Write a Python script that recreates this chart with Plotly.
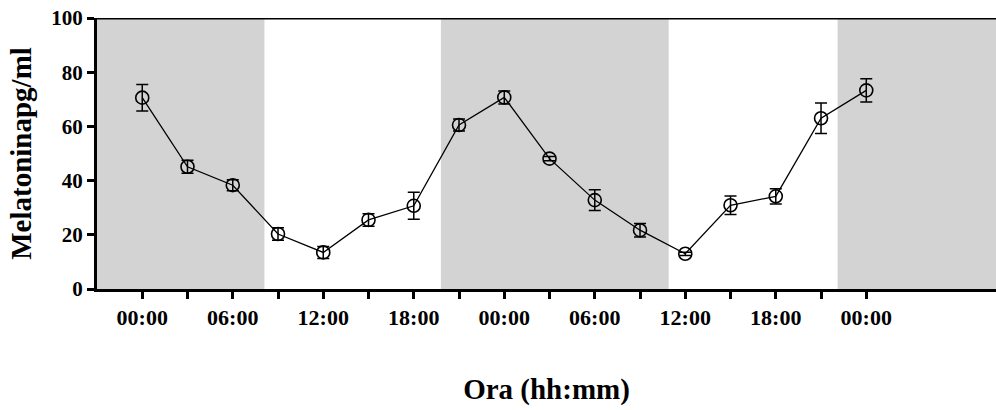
import plotly.graph_objects as go

hours = [0, 3, 6, 9, 12, 15, 18, 21, 24, 27, 30, 33, 36, 39, 42, 45, 48]
melatonin = [70.6, 45.1, 38.3, 20.3, 13.5, 25.5, 30.7, 60.5, 70.7, 48.1, 32.8, 21.7, 13.0, 30.9, 34.2, 63.0, 73.3]
sem = [4.9, 2.4, 2.0, 2.3, 2.2, 2.3, 5.0, 2.2, 2.4, 0.8, 3.8, 2.5, 0.6, 3.4, 2.8, 5.6, 4.3]
tick_vals = [0, 3, 6, 9, 12, 15, 18, 21, 24, 27, 30, 33, 36, 39, 42, 45, 48]
tick_text = ["00:00", "", "06:00", "", "12:00", "", "18:00", "", "00:00", "", "06:00", "", "12:00", "", "18:00", "", "00:00"]
dark_periods = [(-3, 8.1), (19.8, 34.9), (46.1, 56.6)]

font_family = "Liberation Serif"

fig = go.Figure()
fig.add_trace(go.Scatter(
    x=hours, y=melatonin,
    mode="lines+markers",
    line=dict(color="black", width=1.3),
    marker=dict(symbol="circle-open", size=13, color="black", line=dict(width=1.6, color="black")),
    error_y=dict(type="data", array=sem, visible=True, color="black", thickness=1.5, width=6),
    showlegend=False,
))

shapes = []
for x0, x1 in dark_periods:
    shapes.append(dict(type="rect", xref="x", yref="y", x0=x0, x1=x1, y0=0, y1=100,
                       fillcolor="#d3d3d3", line=dict(width=0), layer="below"))
shapes.append(dict(type="line", xref="paper", yref="y", x0=0, x1=1, y0=100, y1=100,
                   line=dict(color="black", width=3)))
fig.update_layout(
    shapes=shapes,
    width=996, height=410,
    margin=dict(l=97, r=0, t=18, b=121),
    paper_bgcolor="white", plot_bgcolor="white",
    font=dict(family=font_family, color="black"),
    xaxis=dict(
        range=[-3, 56.6], showgrid=False, zeroline=False,
        showline=True, linecolor="black", linewidth=3,
        ticks="outside", ticklen=7, tickwidth=2.5, tickcolor="black",
        tickvals=tick_vals, ticktext=tick_text,
        tickfont=dict(family=font_family, size=22, color="black", weight="bold"),
        title=dict(text="<b>Ora (hh:mm)</b>", font=dict(family=font_family, size=29), standoff=50),
    ),
    yaxis=dict(
        range=[0, 100], showgrid=False, zeroline=False,
        showline=True, linecolor="black", linewidth=3,
        ticks="outside", ticklen=7, tickwidth=2.5, tickcolor="black",
        tickvals=[0, 20, 40, 60, 80, 100],
        tickfont=dict(family=font_family, size=21, color="black", weight="bold"),
        title=dict(text="<b>Melatoninapg/ml</b>", font=dict(family=font_family, size=29), standoff=12),
    ),
)

fig.write_html("out.html")
